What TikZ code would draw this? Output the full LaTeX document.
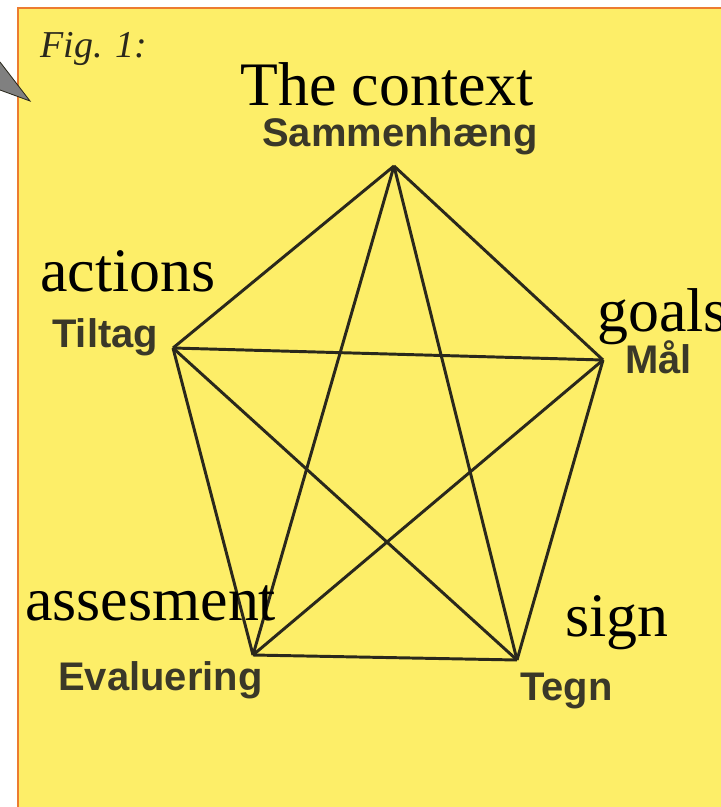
\documentclass[tikz,border=0pt]{standalone}
\usepackage{fontspec}
\setmainfont{Liberation Serif}
\newfontfamily\dkfont{Liberation Sans}
\usetikzlibrary{positioning}
\usetikzlibrary{calc}

\definecolor{sheet}{RGB}{253,238,104}
\definecolor{rim}{RGB}{236,124,48}
\definecolor{ink}{RGB}{42,40,28}
\definecolor{dkink}{RGB}{58,56,40}
\definecolor{tipgray}{RGB}{128,128,128}

\tikzset{
    en/.style={anchor=base west, inner sep=0pt, text=black, font=\fontsize{44}{48}\selectfont},
    dk/.style={anchor=base west, inner sep=0pt, text=dkink, font=\dkfont\bfseries\fontsize{28.4}{32}\selectfont},
    edge/.style={draw=ink, line width=2.1pt, line join=round}
}

\begin{document}
\begin{tikzpicture}[x=0.025cm, y=-0.025cm]
    \useasboundingbox (0,0) rectangle (721,807);

    % sheet
    \fill[sheet] (18,8) rectangle (721,807);
    \draw[rim, line width=1.8pt] (18,807) -- (18,8) -- (721,8);
    \filldraw[fill=tipgray, draw=ink, line width=0.6pt] (0,62) -- (30,101) -- (0,90);

    \node[anchor=base west, inner sep=0pt, text=ink, font=\itshape\fontsize{27}{30}\selectfont] (fig) at (40,58) {Fig. 1:};

    % corners
    \coordinate (sam) at (394,166);
    \coordinate (til) at (173,348);
    \coordinate (maal) at (603,360);
    \coordinate (eval) at (253,655);
    \coordinate (tegn) at (517,660);

    \foreach \a/\b in {sam/til, sam/maal, sam/eval, sam/tegn, til/maal,
                       til/eval, til/tegn, maal/eval, maal/tegn, eval/tegn}
        \draw[edge] (\a) -- (\b);

    % danish
    \node[dk] (lsam) at (262,147) {Sammenhæng};
    \node[dk] (ltil) at (52,347) {Tiltag};
    \node[dk] (lmaal) at (625,373) {Mål};
    \node[dk] (leval) at (58,690) {Evaluering};
    \node[dk] (ltegn) at (520,700) {Tegn};

    % english
    \node[en] (esam) at (240,106) {The context};
    \node[en] (etil) at (40,291) {actions};
    \node[en] (emaal) at (597,331) {goals};
    \node[en] (eeval) at (25,620) {assesment};
    \node[en] (etegn) at (565,636) {sign};
\end{tikzpicture}
\end{document}
